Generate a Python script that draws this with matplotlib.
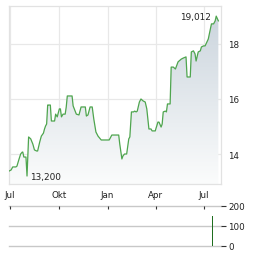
import matplotlib
matplotlib.use("Agg")
import matplotlib.pyplot as plt
import matplotlib.dates as mdates
from matplotlib.colors import LinearSegmentedColormap
import numpy as np
import pandas as pd

dates = ["2023-06-29","2023-07-03","2023-07-06","2023-07-12","2023-07-14","2023-07-18",
         "2023-07-21","2023-07-24","2023-07-25","2023-07-27","2023-07-31","2023-08-02",
         "2023-08-05","2023-08-09","2023-08-13","2023-08-16","2023-08-20","2023-08-22",
         "2023-08-26","2023-08-29","2023-09-02","2023-09-04","2023-09-06","2023-09-08",
         "2023-09-10","2023-09-11","2023-09-15","2023-09-17","2023-09-19","2023-09-23",
         "2023-09-25","2023-09-28","2023-10-02","2023-10-04","2023-10-06","2023-10-09",
         "2023-10-13","2023-10-15","2023-10-17","2023-10-26","2023-10-28","2023-11-03",
         "2023-11-08","2023-11-12","2023-11-20","2023-11-22","2023-11-25","2023-11-29",
         "2023-12-03","2023-12-06","2023-12-10","2023-12-14","2023-12-20","2024-01-04",
         "2024-01-06","2024-01-09","2024-01-22","2024-01-24","2024-01-28","2024-01-30",
         "2024-02-02","2024-02-06","2024-02-10","2024-02-12","2024-02-15","2024-02-19",
         "2024-02-21","2024-02-24","2024-02-26","2024-03-01","2024-03-04","2024-03-08",
         "2024-03-12","2024-03-15","2024-03-19","2024-03-23","2024-03-25","2024-03-31",
         "2024-04-01","2024-04-05","2024-04-07","2024-04-11","2024-04-13","2024-04-15",
         "2024-04-19","2024-04-21","2024-04-23","2024-04-28","2024-04-30","2024-05-04",
         "2024-05-08","2024-05-13","2024-05-19","2024-05-23","2024-05-28","2024-05-30",
         "2024-06-05","2024-06-07","2024-06-11","2024-06-14","2024-06-16","2024-06-20",
         "2024-06-24","2024-06-26","2024-06-30","2024-07-03","2024-07-09","2024-07-13",
         "2024-07-15","2024-07-19","2024-07-22","2024-07-24","2024-07-28"]
prices = [13.38,13.42,13.53,13.53,13.56,13.82,
          14.00,14.07,14.07,13.89,13.89,13.20,
          14.62,14.55,14.36,14.15,14.11,14.11,
          14.44,14.65,14.76,14.91,15.02,15.09,
          15.78,15.78,15.78,15.20,15.20,15.20,
          15.45,15.35,15.64,15.64,15.35,15.45,
          15.45,15.71,16.11,16.11,15.75,15.45,
          15.42,15.71,15.71,15.38,15.42,15.71,
          15.71,15.27,14.80,14.65,14.51,14.51,
          14.58,14.69,14.69,14.36,13.82,13.93,
          14.00,14.00,14.55,14.62,15.53,15.53,
          15.56,15.53,15.56,15.89,16.00,15.93,
          15.89,15.64,14.91,14.91,14.84,14.84,
          14.91,15.16,15.16,14.98,15.09,15.53,
          15.56,15.53,15.82,15.82,17.16,17.16,
          17.09,17.35,17.45,17.49,17.53,16.80,
          16.80,17.71,17.75,17.64,17.38,17.71,
          17.75,17.89,17.93,17.93,18.18,18.55,
          18.73,18.73,18.84,19.012,18.84]
vol_dates = ["2024-07-17"]
vol_values = [150]
x_ticks = ["2023-07-01","2023-10-01","2024-01-01","2024-04-01","2024-07-01"]
x_labels = ["Jul","Okt","Jan","Apr","Jul"]
y_ticks = [14, 16, 18]
vol_ticks = [0, 100, 200]
hi_label = "19,012"
lo_label = "13,200"

d = pd.to_datetime(dates)
p = np.array(prices)
xt = pd.to_datetime(x_ticks)

W, H = 264, 255
fig = plt.figure(figsize=(W/100, H/100), dpi=100)
txt = '#222222'
ax = fig.add_axes([9/W, 1-185/H, (221-9)/W, (185-7)/H])
xlim = (mdates.date2num(pd.Timestamp("2023-06-29")), mdates.date2num(pd.Timestamp("2024-08-02")))
ylim = (12.91, 19.38)
ax.set_xlim(xlim)
ax.set_ylim(ylim)

# gradient fill under the line
poly = ax.fill_between(d, p, ylim[0], color='none', lw=0)
path = poly.get_paths()[0]
cmap = LinearSegmentedColormap.from_list('g', ['#fbfcfc', '#c9d3dc'])
im = ax.imshow(np.linspace(0, 1, 256).reshape(-1, 1), cmap=cmap, aspect='auto',
               extent=[xlim[0], xlim[1], ylim[0], ylim[1]], origin='lower', zorder=1)
im.set_clip_path(path, transform=ax.transData)
ax.plot(d, p, color='#4ea54e', lw=0.9, zorder=3)

ax.set_xticks(xt)
ax.set_xticklabels(x_labels)
ax.set_yticks(y_ticks)
ax.yaxis.tick_right()
ax.tick_params(axis='both', length=0, labelsize=6.3, colors=txt)
ax.tick_params(axis='x', pad=4)
ax.tick_params(axis='y', pad=5)
ax.grid(True, color='#e8e8e8', lw=0.9, zorder=0)
ax.set_axisbelow(True)
for s in ax.spines.values():
    s.set_color('#e2e2e2')
    s.set_linewidth(0.9)

imax = int(np.argmax(p)); imin = int(np.argmin(p))
ax.annotate(hi_label, (d[imax], p[imax]), xytext=(-4, 0), textcoords='offset points',
            ha='right', va='center', fontsize=6.4, color=txt)
ax.annotate(lo_label, (d[imin], p[imin]), xytext=(2.5, 0), textcoords='offset points',
            ha='left', va='center', fontsize=6.4, color=txt)

# volume panel
ax2 = fig.add_axes([9/W, 1-247/H, (221-9)/W, 40/H])
ax2.set_xlim(xlim)
ax2.set_ylim(0, 200)
ax2.bar(pd.to_datetime(vol_dates), vol_values, width=1.2, color='#1f6e1f', zorder=3)
for v in vol_ticks:
    ax2.axhline(v, color='#c8c8c8', lw=1, clip_on=False, zorder=1)
for s in ax2.spines.values():
    s.set_visible(False)
ax2.set_yticks(vol_ticks)
ax2.yaxis.tick_right()
ax2.tick_params(axis='y', length=3.5, width=0.8, color='#333333', labelsize=6.3, colors=txt, pad=1.5)
ax2.set_xticks(xt)
ax2.tick_params(axis='x', top=True, bottom=False, direction='in', length=2, width=0.8,
                labeltop=False, labelbottom=False, color='#333333')
for t in ax2.yaxis.get_ticklines():
    t.set_clip_on(False)

fig.savefig('out.png', dpi=100)
